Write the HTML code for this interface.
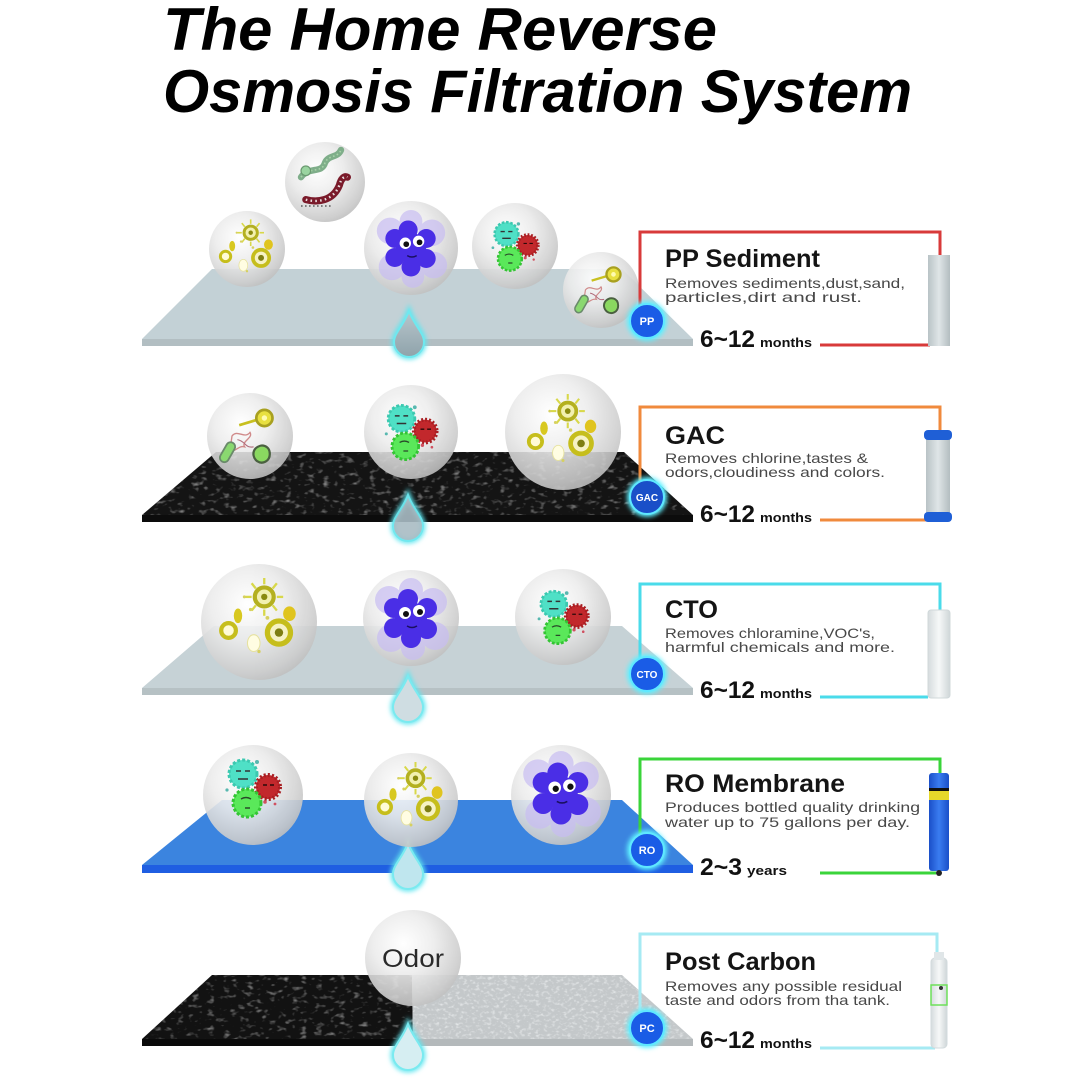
<!DOCTYPE html>
<html><head><meta charset="utf-8"><style>
html,body{margin:0;padding:0;background:#fff;}
svg{display:block;}
text{font-family:"Liberation Sans",Arial,sans-serif;}
</style></head><body>
<svg width="1080" height="1080" viewBox="0 0 1080 1080" xmlns="http://www.w3.org/2000/svg">
<defs>
  <radialGradient id="sph" cx="0.4" cy="0.35" r="0.7">
    <stop offset="0" stop-color="#ffffff"/>
    <stop offset="0.45" stop-color="#ececec"/>
    <stop offset="0.85" stop-color="#cdcdcd"/>
    <stop offset="1" stop-color="#bdbdbd"/>
  </radialGradient>
  <linearGradient id="dropg" x1="0" y1="0" x2="0" y2="1">
    <stop offset="0" stop-color="#b8c6cc"/>
    <stop offset="1" stop-color="#8fa3ab"/>
  </linearGradient>
  <linearGradient id="cartg" x1="0" y1="0" x2="1" y2="0">
    <stop offset="0" stop-color="#b9c3c6"/>
    <stop offset="0.5" stop-color="#dfe5e7"/>
    <stop offset="1" stop-color="#b3bdc0"/>
  </linearGradient>
  <linearGradient id="cartw" x1="0" y1="0" x2="1" y2="0">
    <stop offset="0" stop-color="#d5dbdd"/>
    <stop offset="0.5" stop-color="#f6f8f8"/>
    <stop offset="1" stop-color="#cfd6d8"/>
  </linearGradient>
  <linearGradient id="cartb" x1="0" y1="0" x2="1" y2="0">
    <stop offset="0" stop-color="#1a4fc8"/>
    <stop offset="0.5" stop-color="#3a7cf0"/>
    <stop offset="1" stop-color="#1a4fc8"/>
  </linearGradient>
  <filter id="glow" x="-50%" y="-50%" width="200%" height="200%">
    <feGaussianBlur stdDeviation="2.5"/>
  </filter>
  <filter id="gravel" x="0" y="0" width="100%" height="100%">
    <feTurbulence type="fractalNoise" baseFrequency="0.13 0.22" numOctaves="2" seed="4" result="n"/>
    <feColorMatrix in="n" type="matrix" values="0 0 0 0 0.32  0 0 0 0 0.32  0 0 0 0 0.32  2.6 0 0 0 -1.45" result="s"/>
    <feComposite in="s" in2="SourceGraphic" operator="in"/>
  </filter>
  <filter id="grain" x="0" y="0" width="100%" height="100%">
    <feTurbulence type="fractalNoise" baseFrequency="0.25 0.35" numOctaves="2" seed="7" result="n"/>
    <feColorMatrix in="n" type="matrix" values="0 0 0 0 0.88  0 0 0 0 0.9  0 0 0 0 0.91  2 0 0 0 -1.0" result="s"/>
    <feComposite in="s" in2="SourceGraphic" operator="in"/>
  </filter>

  <g id="yel">
    <g stroke="#d8d84a" stroke-width="2.2">
      <line x1="5" y1="-34" x2="5" y2="-40"/><line x1="5" y1="-10" x2="5" y2="-4"/>
      <line x1="-7" y1="-22" x2="-13" y2="-22"/><line x1="17" y1="-22" x2="23" y2="-22"/>
      <line x1="-3" y1="-30" x2="-7" y2="-35"/><line x1="13" y1="-30" x2="17" y2="-35"/>
      <line x1="-3" y1="-14" x2="-7" y2="-9"/><line x1="13" y1="-14" x2="17" y2="-9"/>
    </g>
    <circle cx="5" cy="-22" r="9" fill="#f2f0b0" stroke="#b4b020" stroke-width="4"/>
    <circle cx="5" cy="-22" r="3" fill="#8a8a10"/>
    <ellipse cx="-20" cy="-4" rx="4" ry="7" fill="#d8c820"/>
    <ellipse cx="29" cy="-6" rx="6" ry="7" fill="#e0c41e"/>
    <circle cx="-29" cy="10" r="7" fill="#fffbd6" stroke="#c6be1c" stroke-width="4"/>
    <circle cx="19" cy="12" r="11" fill="#f6f2c4" stroke="#c6be1c" stroke-width="5"/>
    <circle cx="19" cy="12" r="4" fill="#7e7e12"/>
    <ellipse cx="-5" cy="22" rx="6" ry="8" fill="#fffde2" stroke="#e6e2a0" stroke-width="1"/>
    <circle cx="-8" cy="-10" r="1.6" fill="#d6d060"/><circle cx="-14" cy="-22" r="1.4" fill="#d6d060"/>
    <circle cx="8" cy="-2" r="1.8" fill="#d6d060"/><circle cx="0" cy="30" r="1.6" fill="#d6d060"/>
  </g>
  <g id="flower">
    <g fill="#c8bdf2" opacity="0.7">
      <circle cx="-22" cy="-18" r="14"/><circle cx="22" cy="-16" r="14"/><circle cx="24" cy="18" r="14"/>
      <circle cx="-20" cy="20" r="14"/><circle cx="0" cy="-28" r="12"/><circle cx="2" cy="30" r="12"/>
    </g>
    <g fill="#4a2ee6">
      <circle cx="0" cy="0" r="16"/>
      <circle cx="-3" cy="-19" r="10"/><circle cx="16" cy="-10" r="10"/><circle cx="16" cy="11" r="10"/>
      <circle cx="0" cy="20" r="10"/><circle cx="-17" cy="10" r="10"/><circle cx="-17" cy="-10" r="10"/>
    </g>
    <circle cx="-6" cy="-5" r="6" fill="#fff"/><circle cx="8" cy="-7" r="6" fill="#fff"/>
    <circle cx="-5" cy="-4" r="3" fill="#111"/><circle cx="9" cy="-6" r="3" fill="#111"/>
    <path d="M-4,8 q5,3 10,0" stroke="#1a1060" stroke-width="1.5" fill="none"/>
  </g>
  <g id="germ">
    <circle cx="-10" cy="-14" r="14" fill="#4fe0c6" stroke="#3cc8b0" stroke-width="3" stroke-dasharray="3 2"/>
    <path d="M-17,-17 l5,0 M-8,-17 l5,0 M-15,-9 l10,0" stroke="#333" stroke-width="1.6"/>
    <circle cx="15" cy="-1" r="12" fill="#c2282c" stroke="#a81e22" stroke-width="4" stroke-dasharray="2 2"/>
    <path d="M10,-3 l4,0 M17,-3 l4,0" stroke="#2a0a0a" stroke-width="1.4"/>
    <circle cx="-6" cy="15" r="14" fill="#5ae85a" stroke="#34c434" stroke-width="3" stroke-dasharray="3 2"/>
    <path d="M-12,11 q5,-3 10,0 M-8,20 l5,0" stroke="#2a4a2a" stroke-width="1.4" fill="none"/>
    <circle cx="4" cy="-26" r="2" fill="#58b8b0"/><circle cx="-26" cy="2" r="1.6" fill="#58b8b0"/>
    <circle cx="12" cy="14" r="1.8" fill="#d05060"/><circle cx="22" cy="16" r="1.4" fill="#d05060"/>
  </g>
  <g id="worm">
    <path d="M-30,-6 C-20,-20 -4,-10 0,-24 C4,-34 16,-30 20,-40" stroke="#7fae8a" stroke-width="8" fill="none" stroke-linecap="round"/>
    <path d="M-30,-6 C-20,-20 -4,-10 0,-24 C4,-34 16,-30 20,-40" stroke="#a8d4a8" stroke-width="2" fill="none" stroke-dasharray="2 3"/>
    <circle cx="-24" cy="-14" r="6" fill="#9ad4a0" stroke="#6a9a70" stroke-width="1.5"/>
    <path d="M-24,22 C-10,26 10,24 18,4 C20,-4 24,-8 28,-6" stroke="#7a1a2a" stroke-width="9" fill="none" stroke-linecap="round"/>
    <path d="M-24,22 C-10,26 10,24 18,4 C20,-4 24,-8 28,-6" stroke="#e8e0e0" stroke-width="3" fill="none" stroke-dasharray="2 4"/>
    <path d="M-30,30 l40,0" stroke="#444" stroke-width="1.5" stroke-dasharray="2 3"/>
  </g>
  <g id="mix">
    <line x1="-12" y1="-12" x2="8" y2="-18" stroke="#c8c020" stroke-width="3"/>
    <circle cx="16" cy="-20" r="9" fill="#e8e040" stroke="#a8a020" stroke-width="3"/>
    <circle cx="16" cy="-20" r="3" fill="#fffbb0"/>
    <path d="M-20,0 c6,-8 14,4 20,-4 c4,6 -10,10 -6,16 c-8,-2 -10,8 -16,2 z" fill="none" stroke="#d08a8a" stroke-width="1.5"/>
    <path d="M-14,4 c10,2 8,10 18,8" fill="none" stroke="#b06a7a" stroke-width="1.2"/>
    <rect x="-30" y="6" width="10" height="24" rx="5" transform="rotate(30 -25 18)" fill="#8ad870" stroke="#6a8a6a" stroke-width="2"/>
    <path d="M6,14 c6,-6 16,-4 16,6 c0,8 -8,12 -14,8 c-4,-3 -6,-9 -2,-14z" fill="#8ad860" stroke="#4a6040" stroke-width="2.5"/>
  </g>

  <path id="drop" d="M0,0 C5,14 15,22 15,31 A15,15 0 0 1 -15,31 C-15,22 -5,14 0,0Z"/>
</defs>

<!-- TITLE -->
<text x="163" y="50" font-size="60" font-weight="bold" font-style="italic" fill="#000" textLength="554" lengthAdjust="spacingAndGlyphs">The Home Reverse</text>
<text x="163" y="112" font-size="60" font-weight="bold" font-style="italic" fill="#000" textLength="749" lengthAdjust="spacingAndGlyphs">Osmosis Filtration System</text>

<!-- ================= PANEL 1: PP ================= -->
<polygon points="212,269 622,269 693,339 142,339" fill="#c3d1d6"/>
<rect x="142" y="339" width="551" height="7" fill="#b2bec2"/>
<g transform="translate(409,311)">
  <use href="#drop" fill="none" stroke="#5fe6f0" stroke-width="5" filter="url(#glow)"/>
  <use href="#drop" fill="url(#dropg)" stroke="#6fe8ef" stroke-width="2"/>
</g>
<g opacity="0.9">
<circle cx="247" cy="249" r="38" fill="url(#sph)"/>
<circle cx="325" cy="182" r="40" fill="url(#sph)"/>
<circle cx="411" cy="248" r="47" fill="url(#sph)"/>
<circle cx="515" cy="246" r="43" fill="url(#sph)"/>
<circle cx="601" cy="290" r="38" fill="url(#sph)"/>
</g>
<use href="#yel" transform="translate(247,249) scale(0.74)"/>
<use href="#worm" transform="translate(325,182) scale(0.8)"/>
<use href="#flower" transform="translate(411,248) scale(0.95)"/>
<use href="#germ" transform="translate(515,246) scale(0.85)"/>
<use href="#mix" transform="translate(601,290) scale(0.78)"/>
<g stroke="#d83a3a" stroke-width="3" fill="none">
  <polyline points="640,306 640,232 940,232 940,256"/>
  <line x1="820" y1="345" x2="930" y2="345"/>
</g>
<rect x="928" y="255" width="22" height="91" fill="url(#cartg)"/>
<circle cx="647" cy="321" r="20" fill="#5ff0ff" filter="url(#glow)"/>
<circle cx="647" cy="321" r="17" fill="#1a5ce6" stroke="#5fe8ff" stroke-width="2"/>
<text x="647" y="325" font-size="11" font-weight="bold" fill="#fff" text-anchor="middle">PP</text>
<text x="665" y="267" font-size="25" font-weight="bold" fill="#141414" textLength="155" lengthAdjust="spacingAndGlyphs">PP Sediment</text>
<text x="665" y="288" font-size="14" fill="#484848" textLength="240" lengthAdjust="spacingAndGlyphs">Removes sediments,dust,sand,</text>
<text x="665" y="302" font-size="14" fill="#484848" textLength="197" lengthAdjust="spacingAndGlyphs">particles,dirt and rust.</text>
<text x="700" y="347" font-size="24" font-weight="bold" fill="#111" textLength="55" lengthAdjust="spacingAndGlyphs">6~12</text>
<text x="760" y="347" font-size="13" font-weight="bold" fill="#111" textLength="52" lengthAdjust="spacingAndGlyphs">months</text>

<!-- ================= PANEL 2: GAC ================= -->
<polygon points="216,452 624,452 693,515 142,515" fill="#141414"/>
<polygon points="216,452 624,452 693,515 142,515" fill="#000" filter="url(#gravel)"/>
<rect x="142" y="515" width="551" height="7" fill="#0c0c0c"/>
<g transform="translate(408,495)">
  <use href="#drop" fill="none" stroke="#5fe6f0" stroke-width="5" filter="url(#glow)"/>
  <use href="#drop" fill="#a9bcc4" stroke="#6fe8ef" stroke-width="2" opacity="0.9"/>
</g>
<g opacity="0.88">
<circle cx="250" cy="436" r="43" fill="url(#sph)"/>
<circle cx="411" cy="432" r="47" fill="url(#sph)"/>
<circle cx="563" cy="432" r="58" fill="url(#sph)"/>
</g>
<use href="#mix" transform="translate(250,436) scale(0.9)"/>
<use href="#germ" transform="translate(411,432) scale(0.95)"/>
<use href="#yel" transform="translate(563,432) scale(0.95)"/>
<g stroke="#f08a3c" stroke-width="3" fill="none">
  <polyline points="640,482 640,407 940,407 940,432"/>
  <line x1="820" y1="520" x2="928" y2="520"/>
</g>
<rect x="926" y="431" width="24" height="91" rx="3" fill="url(#cartg)"/>
<rect x="924" y="430" width="28" height="10" rx="4" fill="#1f5fd6"/>
<rect x="924" y="512" width="28" height="10" rx="4" fill="#1f5fd6"/>
<circle cx="647" cy="497" r="20" fill="#5ff0ff" filter="url(#glow)"/>
<circle cx="647" cy="497" r="17" fill="#1a4fc8" stroke="#5fe8ff" stroke-width="2"/>
<text x="647" y="501" font-size="10" font-weight="bold" fill="#fff" text-anchor="middle">GAC</text>
<text x="665" y="444" font-size="25" font-weight="bold" fill="#141414" textLength="60" lengthAdjust="spacingAndGlyphs">GAC</text>
<text x="665" y="463" font-size="14" fill="#484848" textLength="203" lengthAdjust="spacingAndGlyphs">Removes chlorine,tastes &amp;</text>
<text x="665" y="477" font-size="14" fill="#484848" textLength="220" lengthAdjust="spacingAndGlyphs">odors,cloudiness and colors.</text>
<text x="700" y="522" font-size="24" font-weight="bold" fill="#111" textLength="55" lengthAdjust="spacingAndGlyphs">6~12</text>
<text x="760" y="522" font-size="13" font-weight="bold" fill="#111" textLength="52" lengthAdjust="spacingAndGlyphs">months</text>

<!-- ================= PANEL 3: CTO ================= -->
<polygon points="214,626 622,626 693,688 142,688" fill="#c6d2d6"/>
<rect x="142" y="688" width="551" height="7" fill="#b6c1c4"/>
<g transform="translate(408,676)">
  <use href="#drop" fill="none" stroke="#5fe6f0" stroke-width="5" filter="url(#glow)"/>
  <use href="#drop" fill="#cfdde2" stroke="#7aeaf0" stroke-width="2"/>
</g>
<g opacity="0.9">
<circle cx="259" cy="622" r="58" fill="url(#sph)"/>
<circle cx="411" cy="618" r="48" fill="url(#sph)"/>
<circle cx="563" cy="617" r="48" fill="url(#sph)"/>
</g>
<use href="#yel" transform="translate(259,620) scale(1.05)"/>
<use href="#flower" transform="translate(411,618) scale(1.0)"/>
<use href="#germ" transform="translate(563,617) scale(0.92)"/>
<g stroke="#4adbea" stroke-width="3" fill="none">
  <polyline points="640,660 640,584 940,584 940,610"/>
  <line x1="820" y1="697" x2="928" y2="697"/>
</g>
<rect x="928" y="610" width="22" height="88" rx="3" fill="url(#cartw)" stroke="#d0d8da" stroke-width="1"/>
<circle cx="647" cy="674" r="20" fill="#5ff0ff" filter="url(#glow)"/>
<circle cx="647" cy="674" r="17" fill="#1a5ce6" stroke="#5fe8ff" stroke-width="2"/>
<text x="647" y="678" font-size="10" font-weight="bold" fill="#fff" text-anchor="middle">CTO</text>
<text x="665" y="618" font-size="25" font-weight="bold" fill="#141414" textLength="53" lengthAdjust="spacingAndGlyphs">CTO</text>
<text x="665" y="638" font-size="14" fill="#484848" textLength="210" lengthAdjust="spacingAndGlyphs">Removes chloramine,VOC's,</text>
<text x="665" y="652" font-size="14" fill="#484848" textLength="230" lengthAdjust="spacingAndGlyphs">harmful chemicals and more.</text>
<text x="700" y="698" font-size="24" font-weight="bold" fill="#111" textLength="55" lengthAdjust="spacingAndGlyphs">6~12</text>
<text x="760" y="698" font-size="13" font-weight="bold" fill="#111" textLength="52" lengthAdjust="spacingAndGlyphs">months</text>

<!-- ================= PANEL 4: RO ================= -->
<polygon points="222,800 622,800 693,865 142,865" fill="#3b84df"/>
<rect x="142" y="865" width="551" height="8" fill="#1f5ee2"/>
<g transform="translate(408,843)">
  <use href="#drop" fill="none" stroke="#5fe6f0" stroke-width="5" filter="url(#glow)"/>
  <use href="#drop" fill="#bfe6ee" stroke="#7aeaf0" stroke-width="2"/>
</g>
<g opacity="0.9">
<circle cx="253" cy="795" r="50" fill="url(#sph)"/>
<circle cx="411" cy="800" r="47" fill="url(#sph)"/>
<circle cx="561" cy="795" r="50" fill="url(#sph)"/>
</g>
<use href="#germ" transform="translate(253,788) scale(1.0)"/>
<use href="#yel" transform="translate(411,798) scale(0.9)"/>
<use href="#flower" transform="translate(561,793) scale(1.05)"/>
<g stroke="#3ad43a" stroke-width="3" fill="none">
  <polyline points="640,835 640,759 940,759 940,774"/>
  <line x1="820" y1="873" x2="936" y2="873"/>
</g>
<rect x="929" y="773" width="20" height="98" rx="3" fill="url(#cartb)"/>
<rect x="929" y="788" width="20" height="3" fill="#111"/>
<rect x="929" y="791" width="20" height="9" fill="#e6d82a"/>
<circle cx="939" cy="873" r="3" fill="#222"/>
<circle cx="647" cy="850" r="20" fill="#5ff0ff" filter="url(#glow)"/>
<circle cx="647" cy="850" r="17" fill="#1a5ce6" stroke="#5fe8ff" stroke-width="2"/>
<text x="647" y="854" font-size="11" font-weight="bold" fill="#fff" text-anchor="middle">RO</text>
<text x="665" y="792" font-size="25" font-weight="bold" fill="#141414" textLength="180" lengthAdjust="spacingAndGlyphs">RO Membrane</text>
<text x="665" y="812" font-size="14" fill="#484848" textLength="255" lengthAdjust="spacingAndGlyphs">Produces bottled quality drinking</text>
<text x="665" y="827" font-size="14" fill="#484848" textLength="245" lengthAdjust="spacingAndGlyphs">water up to 75 gallons per day.</text>
<text x="700" y="875" font-size="24" font-weight="bold" fill="#111" textLength="42" lengthAdjust="spacingAndGlyphs">2~3</text>
<text x="747" y="875" font-size="13" font-weight="bold" fill="#111" textLength="40" lengthAdjust="spacingAndGlyphs">years</text>

<!-- ================= PANEL 5: PC ================= -->
<polygon points="212,975 412,975 413,1046 142,1046 142,1039" fill="#121212"/>
<polygon points="212,975 412,975 413,1046 142,1046 142,1039" fill="#000" filter="url(#gravel)"/>
<polygon points="412,975 622,975 693,1039 693,1046 413,1046" fill="#c4c8ca"/>
<polygon points="412,975 622,975 693,1039 693,1046 413,1046" fill="#000" filter="url(#grain)"/>
<rect x="413" y="1039" width="280" height="7" fill="#b4b9bb"/>
<rect x="142" y="1039" width="271" height="7" fill="#0a0a0a"/>
<g transform="translate(408,1024)">
  <use href="#drop" fill="none" stroke="#5fe6f0" stroke-width="5" filter="url(#glow)"/>
  <use href="#drop" fill="#d6eef2" stroke="#7aeaf0" stroke-width="2"/>
</g>
<circle cx="413" cy="958" r="48" fill="url(#sph)" opacity="0.9"/>
<text x="413" y="967" font-size="25" fill="#2a2a2a" text-anchor="middle" textLength="62" lengthAdjust="spacingAndGlyphs">Odor</text>
<g stroke="#a6eaf3" stroke-width="3" fill="none">
  <polyline points="640,1012 640,934 937,934 937,952"/>
  <line x1="820" y1="1048" x2="935" y2="1048"/>
</g>
<rect x="931" y="958" width="16" height="90" rx="4" fill="url(#cartw)" stroke="#d2dadc" stroke-width="1"/>
<rect x="934" y="952" width="10" height="8" fill="#e0e6e8"/>
<rect x="931" y="985" width="16" height="20" fill="none" stroke="#6ee05a" stroke-width="1.5"/>
<circle cx="941" cy="988" r="2" fill="#333"/>
<circle cx="647" cy="1028" r="20" fill="#5ff0ff" filter="url(#glow)"/>
<circle cx="647" cy="1028" r="17" fill="#1a5ce6" stroke="#5fe8ff" stroke-width="2"/>
<text x="647" y="1032" font-size="11" font-weight="bold" fill="#fff" text-anchor="middle">PC</text>
<text x="665" y="970" font-size="25" font-weight="bold" fill="#141414" textLength="151" lengthAdjust="spacingAndGlyphs">Post Carbon</text>
<text x="665" y="991" font-size="14" fill="#484848" textLength="237" lengthAdjust="spacingAndGlyphs">Removes any possible residual</text>
<text x="665" y="1005" font-size="14" fill="#484848" textLength="225" lengthAdjust="spacingAndGlyphs">taste and odors from tha tank.</text>
<text x="700" y="1048" font-size="24" font-weight="bold" fill="#111" textLength="55" lengthAdjust="spacingAndGlyphs">6~12</text>
<text x="760" y="1048" font-size="13" font-weight="bold" fill="#111" textLength="52" lengthAdjust="spacingAndGlyphs">months</text>
</svg>
</body></html>
